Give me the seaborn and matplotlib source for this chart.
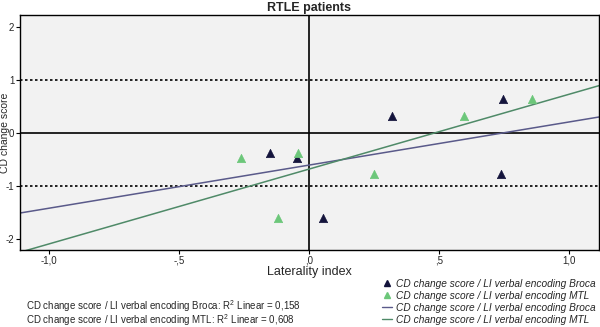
import matplotlib
matplotlib.use("Agg")
import matplotlib.pyplot as plt
import seaborn as sns
import pandas as pd
from matplotlib.lines import Line2D

# Data
cd_change = [-0.38, -0.48, 0.32, 0.636, -0.78, -1.60]
li_broca = [-0.15, -0.045, 0.32, 0.747, 0.737, 0.054]
li_mtl = [-0.042, -0.26, 0.597, 0.856, 0.25, -0.12]
r2_broca = "0,158"
r2_mtl = "0,608"
xticks = [-1.0, -0.5, 0.0, 0.5, 1.0]
xticklabels = ["-1,0", "-,5", ",0", ",5", "1,0"]
yticks = [-2, -1, 0, 1, 2]
yticklabels = ["-2", "-1", "0", "1", "2"]

df_b = pd.DataFrame({"LI": li_broca, "CD": cd_change})
df_m = pd.DataFrame({"LI": li_mtl, "CD": cd_change})

sns.set_style("white")
plt.rcParams['font.family'] = ['Liberation Sans', 'DejaVu Sans']
plt.rcParams['mathtext.fontset'] = 'custom'
plt.rcParams['mathtext.rm'] = 'Liberation Sans'

fig = plt.figure(figsize=(6.0, 3.27), dpi=100)
ax = fig.add_axes([0.0333, 0.2355, 0.965, 0.7187])
ax.set_facecolor("#f2f2f2")
ax.set_xlim(-1.11, 1.115)
ax.set_ylim(-2.21, 2.23)

c_broca_pt = "#14143c"
c_mtl_pt = "#6cc77a"
c_broca_ln = "#5a5a8a"
c_mtl_ln = "#4f8a68"

# reference lines
ax.axhline(0, color="black", lw=1.2, zorder=1)
ax.axvline(0, color="black", lw=1.2, zorder=1)
ax.axhline(1, color="black", lw=1.2, ls=(0, (1.5, 1.5)), zorder=1)
ax.axhline(-1, color="black", lw=1.2, ls=(0, (1.5, 1.5)), zorder=1)

sns.regplot(data=df_b, x="LI", y="CD", ax=ax, scatter=False, ci=None,
            truncate=False, line_kws=dict(color=c_broca_ln, lw=1.1, zorder=2))
sns.regplot(data=df_m, x="LI", y="CD", ax=ax, scatter=False, ci=None,
            truncate=False, line_kws=dict(color=c_mtl_ln, lw=1.1, zorder=2))
sns.scatterplot(data=df_b, x="LI", y="CD", ax=ax, marker="^", s=36,
                color=c_broca_pt, edgecolor=c_broca_pt, linewidth=0.5, zorder=3)
sns.scatterplot(data=df_m, x="LI", y="CD", ax=ax, marker="^", s=36,
                color=c_mtl_pt, edgecolor=c_mtl_pt, linewidth=0.5, zorder=3)

ax.set_xlim(-1.11, 1.115)
ax.set_ylim(-2.21, 2.23)
ax.set_xticks(xticks)
ax.set_xticklabels(xticklabels, fontsize=7)
ax.set_yticks(yticks)
ax.set_yticklabels(yticklabels, fontsize=7)
ax.tick_params(axis="both", length=3, width=0.8, color="black", pad=1, direction="out")
ax.xaxis.set_ticks_position("bottom")
ax.yaxis.set_ticks_position("left")
for sp in ax.spines.values():
    sp.set_color("black")
    sp.set_linewidth(1.0)

ax.set_xlabel("Laterality index", fontsize=9, labelpad=0)
ax.set_ylabel("CD change score", fontsize=7.5)
ax.yaxis.set_label_coords(-0.0165, 0.5)
ax.set_title("RTLE patients", fontsize=9, fontweight="bold", pad=3)

handles = [
    Line2D([], [], marker="^", ls="none", color=c_broca_pt, markersize=5),
    Line2D([], [], marker="^", ls="none", color=c_mtl_pt, markersize=5),
    Line2D([], [], color=c_broca_ln, lw=1),
    Line2D([], [], color=c_mtl_ln, lw=1),
]
labels = ["CD change score / LI verbal encoding Broca",
          "CD change score / LI verbal encoding MTL",
          "CD change score / LI verbal encoding Broca",
          "CD change score / LI verbal encoding MTL"]
leg = fig.legend(handles, labels, loc="upper left", bbox_to_anchor=(0.628, 0.163),
                 frameon=False, handlelength=1.0, handletextpad=0.4,
                 labelspacing=0.2, borderpad=0, prop={"style": "italic", "size": 7.3})

fig.text(0.043, 0.064, "CD change score / LI verbal encoding Broca: R$^{2}$ Linear = " + r2_broca,
         fontsize=7.0, va="center", ha="left")
fig.text(0.043, 0.02, "CD change score / LI verbal encoding MTL: R$^{2}$ Linear = " + r2_mtl,
         fontsize=7.0, va="center", ha="left")

fig.savefig("out.png", dpi=100)
